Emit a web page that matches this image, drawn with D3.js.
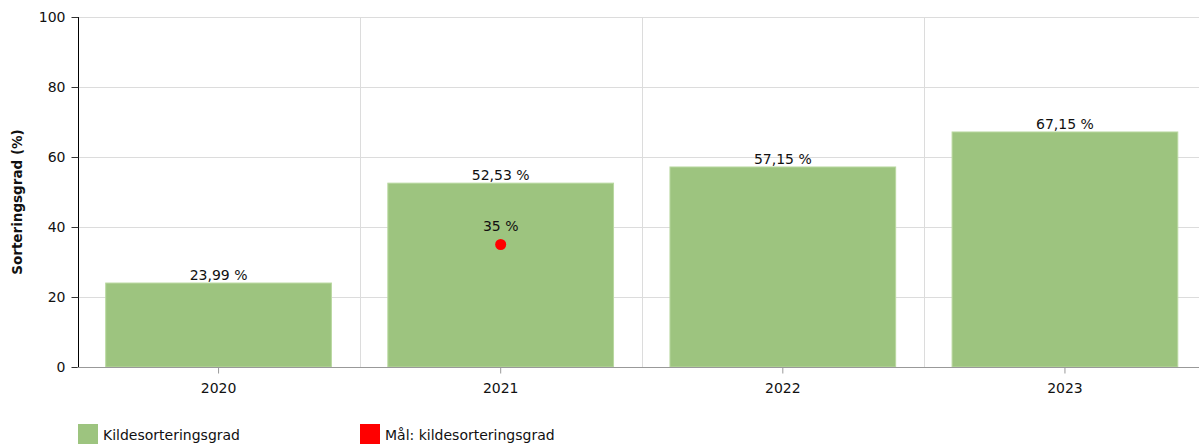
<!DOCTYPE html>
<html><head><meta charset="utf-8">
<script src="https://cdn.jsdelivr.net/npm/d3@7"></script>
<style>body{margin:0;background:#fff;overflow:hidden}svg{display:block;font-family:"DejaVu Sans",Verdana,sans-serif}</style>
</head><body>
<svg id="c" width="1199" height="445"></svg>
<script>
const categories = ["2020","2021","2022","2023"];
const values = [23.99, 52.53, 57.15, 67.15];
const valueLabels = ["23,99 %","52,53 %","57,15 %","67,15 %"];
const targetCats = ["2021"];
const targetValues = [35];
const targetLabels = ["35 %"];
const yTicks = [0,20,40,60,80,100];
const legendLabels = ["Kildesorteringsgrad","Mål: kildesorteringsgrad"];

(function(){
const svg = d3.select("#c");
const pLeft = 77.5, pTop = 17, pBottom = 367, pRight = 1206;
const fs = 14;
const x = d3.scaleBand().domain(categories).range([pLeft, pRight]).paddingInner(0).paddingOuter(0);
const y = d3.scaleLinear().domain([0,100]).range([pBottom, pTop]);
const inset = x.bandwidth()*0.1;

// grid
svg.append("g").selectAll("line").data(yTicks.filter(d=>d>0)).join("line")
  .attr("x1", pLeft).attr("x2", 1199).attr("y1", d=>Math.round(y(d))+0.5).attr("y2", d=>Math.round(y(d))+0.5)
  .attr("stroke","#dcdcdc");
svg.append("g").selectAll("line").data(categories.slice(1)).join("line")
  .attr("x1", d=>Math.round(x(d))+0.5).attr("x2", d=>Math.round(x(d))+0.5).attr("y1", pTop).attr("y2", pBottom)
  .attr("stroke","#dcdcdc");

// bars
svg.append("g").selectAll("rect").data(categories).join("rect")
  .attr("x", (d)=>x(d)+inset).attr("width", x.bandwidth()-2*inset)
  .attr("y", (d,i)=>y(values[i])).attr("height", (d,i)=>pBottom-y(values[i]))
  .attr("fill","#9dc47f").attr("stroke","#b9d8a0").attr("stroke-width",1);

svg.append("g").selectAll("text").data(categories).join("text")
  .attr("x", d=>x(d)+x.bandwidth()/2).attr("y",(d,i)=>y(values[i])-3)
  .attr("text-anchor","middle").attr("font-size",fs).attr("fill","#111")
  .text((d,i)=>valueLabels[i]);

// target points
svg.append("g").selectAll("circle").data(targetCats).join("circle")
  .attr("cx", d=>x(d)+x.bandwidth()/2).attr("cy",(d,i)=>y(targetValues[i])).attr("r",5.5).attr("fill","#ff0000");
svg.append("g").selectAll("text").data(targetCats).join("text")
  .attr("x", d=>x(d)+x.bandwidth()/2).attr("y",(d,i)=>y(targetValues[i])-14)
  .attr("text-anchor","middle").attr("font-size",fs).attr("fill","#111")
  .text((d,i)=>targetLabels[i]);

// axes
const ya = svg.append("g").attr("transform",`translate(${Math.round(pLeft)+0.5},0)`)
  .call(d3.axisLeft(y).tickValues(yTicks).tickSize(7).tickPadding(6));
ya.select(".domain").attr("stroke","#000").attr("d",`M0,${pTop}V${pBottom}`);
ya.selectAll(".tick line").attr("stroke","#333");
ya.selectAll("text").attr("font-size",fs).attr("fill","#111").attr("font-family","DejaVu Sans, Verdana, sans-serif");

const xa = svg.append("g").attr("transform",`translate(0,${pBottom+0.5})`)
  .call(d3.axisBottom(x).tickSize(6).tickPadding(10));
xa.select(".domain").attr("stroke","#999").attr("d",`M${pLeft},0H1199`);
xa.selectAll(".tick line").attr("stroke","#999");
xa.selectAll("text").attr("font-size",fs).attr("fill","#111").attr("font-family","DejaVu Sans, Verdana, sans-serif");

svg.append("text").attr("transform","translate(22,202) rotate(-90)")
  .attr("text-anchor","middle").attr("font-size",13.5).attr("font-weight","bold").attr("fill","#111")
  .text("Sorteringsgrad (%)");

// legend
const legColors = ["#9dc47f","#ff0000"];
const legX = [78, 360];
const lg = svg.append("g").selectAll("g").data(legendLabels).join("g")
  .attr("transform",(d,i)=>`translate(${legX[i]},424)`);
lg.append("rect").attr("width",20).attr("height",20).attr("fill",(d,i)=>legColors[i]);
lg.append("text").attr("x",25).attr("y",16).attr("font-size",fs).attr("fill","#111").text(d=>d);
})();
</script>
</body></html>
